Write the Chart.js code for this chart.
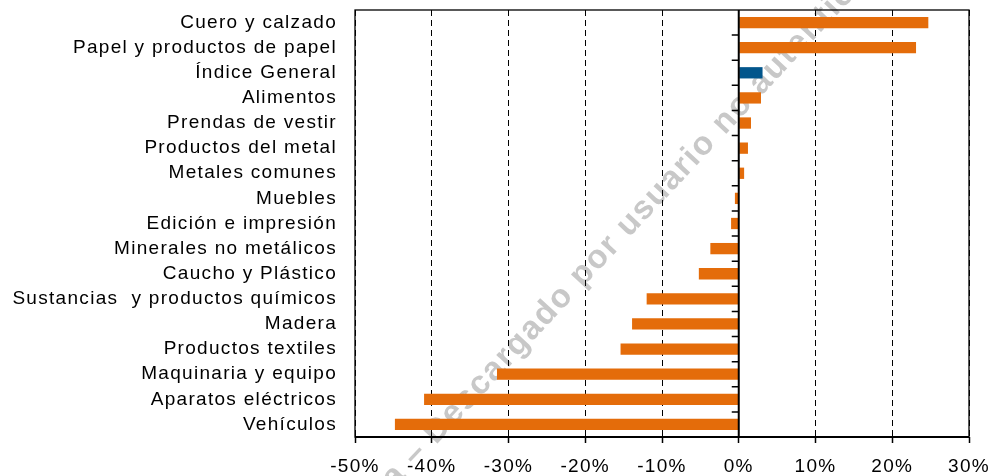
<!DOCTYPE html>
<html>
<head>
<meta charset="utf-8">
<script src="https://cdn.jsdelivr.net/npm/chart.js@4/dist/chart.umd.min.js"></script>
<style>
  html, body { margin: 0; padding: 0; background: #fff; }
  #wrap { width: 996px; height: 476px; }
</style>
</head>
<body>
<div id="wrap"><canvas id="chartSectores"></canvas></div>
<script>
// Variación por sector industrial (%)
const categories = [
  'Cuero y calzado',
  'Papel y productos de papel',
  'Índice General',
  'Alimentos',
  'Prendas de vestir',
  'Productos del metal',
  'Metales comunes',
  'Muebles',
  'Edición e impresión',
  'Minerales no metálicos',
  'Caucho y Plástico',
  'Sustancias  y productos químicos',
  'Madera',
  'Productos textiles',
  'Maquinaria y equipo',
  'Aparatos eléctricos',
  'Vehículos',
];
const variation = [24.7, 23.1, 3.1, 2.9, 1.6, 1.2, 0.7, -0.5, -1.0, -3.7, -5.2, -12.0, -13.9, -15.4, -31.5, -41.0, -44.8];
const xTickValues = [-50, -40, -30, -20, -10, 0, 10, 20, 30];
const highlightCategory = 'Índice General';
const watermarkText = 'a – Descargado por usuario no autenticado';

const ORANGE = '#e46c0a';
const BLUE = '#02568c';
const FONT = '"Liberation Sans", Arial, sans-serif';
const TEXT_SPACING = '1.3px';

// canvas resets wipe letterSpacing, so set it again before each pass
function applySpacing(chart) {
  chart.ctx.letterSpacing = TEXT_SPACING;
}

const excelFrame = {
  id: 'excelFrame',
  beforeUpdate: applySpacing,
  beforeLayout: applySpacing,
  beforeDraw(chart) {
    applySpacing(chart);
    const { ctx } = chart;
    ctx.save();
    ctx.translate(436, 445);
    ctx.rotate(-47 * Math.PI / 180);
    ctx.font = 'bold 33px ' + FONT;
    ctx.letterSpacing = '1.5px';
    ctx.fillStyle = '#c8c8c8';
    const prefix = ctx.measureText('a – ').width;
    ctx.fillText(watermarkText, -prefix, 0);
    ctx.restore();
  },
  afterDatasetsDraw(chart) {
    const { ctx, chartArea: a, scales: { x, y } } = chart;
    const x0 = x.getPixelForValue(0);
    ctx.save();
    ctx.strokeStyle = '#000';
    ctx.lineWidth = 1.3;
    ctx.strokeRect(a.left, a.top, a.right - a.left, a.bottom - a.top);

    ctx.lineWidth = 2;
    ctx.beginPath();
    ctx.moveTo(x0, a.top);
    ctx.lineTo(x0, a.bottom);
    ctx.moveTo(a.left, a.bottom);
    ctx.lineTo(a.right, a.bottom);
    ctx.stroke();

    ctx.lineWidth = 1.5;
    ctx.beginPath();
    for (let i = 1; i < categories.length; i++) {
      const yb = (y.getPixelForValue(i - 1) + y.getPixelForValue(i)) / 2;
      ctx.moveTo(x0 - 7, yb);
      ctx.lineTo(x0, yb);
    }
    ctx.stroke();
    ctx.restore();
  },
};

new Chart(document.getElementById('chartSectores'), {
  type: 'bar',
  data: {
    labels: categories,
    datasets: [{
      data: variation,
      backgroundColor: (c) => (categories[c.dataIndex] === highlightCategory ? BLUE : ORANGE),
      borderWidth: 0,
      barPercentage: 0.45,
      categoryPercentage: 1,
    }],
  },
  options: {
    indexAxis: 'y',
    responsive: true,
    maintainAspectRatio: false,
    animation: false,
    layout: { padding: { top: 10, right: 27, left: 0, bottom: 0 } },
    plugins: {
      legend: { display: false },
      tooltip: { enabled: false },
    },
    scales: {
      x: {
        min: xTickValues[0],
        max: xTickValues[xTickValues.length - 1],
        afterBuildTicks: (scale) => {
          scale.ticks = xTickValues.map((v) => ({ value: v }));
        },
        afterFit: (scale) => {
          scale.height = 39;
          scale.paddingLeft = 0;
          scale.paddingRight = 0;
        },
        grid: {
          color: '#000',
          lineWidth: 1,
          tickLength: 6,
          tickWidth: 1.5,
          tickColor: '#000',
        },
        border: { display: false, dash: [6, 4] },
        ticks: {
          color: '#000',
          padding: 12,
          maxRotation: 0,
          font: { family: FONT, size: 19 },
          callback: (v) => v + '%',
        },
      },
      y: {
        afterFit: (scale) => {
          scale.width = 355;
          scale.paddingTop = 0;
          scale.paddingBottom = 0;
        },
        grid: { display: false },
        border: { display: false },
        ticks: {
          color: '#000',
          padding: 10,
          autoSkip: false,
          font: { family: FONT, size: 19 },
        },
      },
    },
  },
  plugins: [excelFrame],
});
</script>
</body>
</html>
